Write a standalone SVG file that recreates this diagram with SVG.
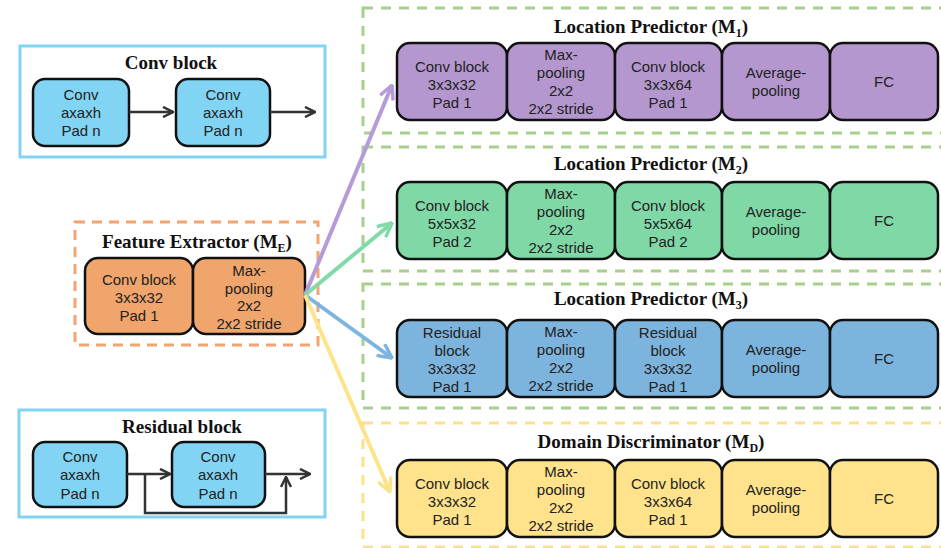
<svg xmlns="http://www.w3.org/2000/svg" width="941" height="548" viewBox="0 0 941 548">
<style>
.frame{fill:none;stroke:#83d3f5;stroke-width:3}
.cb{fill:#82d4f4;stroke:#111;stroke-width:2.5}
.pu{fill:#b497cf;stroke:#111;stroke-width:2.5}
.gr{fill:#80d8a7;stroke:#111;stroke-width:2.5}
.bl{fill:#7db4dd;stroke:#111;stroke-width:2.5}
.ye{fill:#fee28c;stroke:#111;stroke-width:2.5}
.or{fill:#f0a56c;stroke:#111;stroke-width:2.5}
.gd{fill:none;stroke:#a8d08d;stroke-width:3;stroke-dasharray:10 8}
.yd{fill:none;stroke:#fee08a;stroke-width:3;stroke-dasharray:10 8}
.od{fill:none;stroke:#f4a470;stroke-width:3;stroke-dasharray:10 7}
.t{font-family:"Liberation Sans",Arial,sans-serif;font-size:15px;fill:#222;text-anchor:middle}
.h{font-family:"Liberation Serif",serif;font-weight:bold;font-size:19px;fill:#111;text-anchor:middle}
.sub{font-size:12px}
.k{fill:none;stroke:#333;stroke-width:2.5}
</style>
<defs>
<marker id="ak" viewBox="0 0 12 12" refX="11" refY="6" markerWidth="12" markerHeight="12" markerUnits="userSpaceOnUse" orient="auto"><path d="M1,1 L11,6 L1,11" fill="none" stroke="#333" stroke-width="2.5"/></marker>
<marker id="ap" viewBox="0 0 16 16" refX="15" refY="8" markerWidth="16" markerHeight="16" markerUnits="userSpaceOnUse" orient="auto"><path d="M1,1 L15,8 L1,15" fill="none" stroke="#b59bd8" stroke-width="3.5"/></marker>
<marker id="ag" viewBox="0 0 16 16" refX="15" refY="8" markerWidth="16" markerHeight="16" markerUnits="userSpaceOnUse" orient="auto"><path d="M1,1 L15,8 L1,15" fill="none" stroke="#80dba8" stroke-width="3.5"/></marker>
<marker id="ab" viewBox="0 0 16 16" refX="15" refY="8" markerWidth="16" markerHeight="16" markerUnits="userSpaceOnUse" orient="auto"><path d="M1,1 L15,8 L1,15" fill="none" stroke="#7cb5e0" stroke-width="3.5"/></marker>
<marker id="ay" viewBox="0 0 16 16" refX="15" refY="8" markerWidth="16" markerHeight="16" markerUnits="userSpaceOnUse" orient="auto"><path d="M1,1 L15,8 L1,15" fill="none" stroke="#fde38a" stroke-width="3.5"/></marker>
</defs>

<g id="panel-m1">
<rect class="gd" x="363" y="8" width="600" height="125"/>
<text class="h" x="651" y="33">Location Predictor (M<tspan class="sub" dy="4">1</tspan><tspan dy="-4">)</tspan></text>
<rect class="pu" x="397" y="43" width="110" height="77" rx="13"/>
<rect class="pu" x="507" y="43" width="108" height="77" rx="13"/>
<rect class="pu" x="615" y="43" width="107" height="77" rx="13"/>
<rect class="pu" x="722" y="43" width="108" height="77" rx="13"/>
<rect class="pu" x="830" y="43" width="108" height="77" rx="13"/>
<text class="t" x="452" y="72">Conv block</text><text class="t" x="452" y="90">3x3x32</text><text class="t" x="452" y="108">Pad 1</text>
<text class="t" x="561" y="60">Max-</text><text class="t" x="561" y="78">pooling</text><text class="t" x="561" y="96">2x2</text><text class="t" x="561" y="114">2x2 stride</text>
<text class="t" x="668" y="72">Conv block</text><text class="t" x="668" y="90">3x3x64</text><text class="t" x="668" y="108">Pad 1</text>
<text class="t" x="776" y="78">Average-</text><text class="t" x="776" y="96">pooling</text>
<text class="t" x="884" y="87">FC</text>
</g>

<g id="panel-m2">
<rect class="gd" x="363" y="147" width="600" height="124"/>
<text class="h" x="651" y="170">Location Predictor (M<tspan class="sub" dy="4">2</tspan><tspan dy="-4">)</tspan></text>
<rect class="gr" x="397" y="182" width="110" height="77" rx="13"/>
<rect class="gr" x="507" y="182" width="108" height="77" rx="13"/>
<rect class="gr" x="615" y="182" width="107" height="77" rx="13"/>
<rect class="gr" x="722" y="182" width="108" height="77" rx="13"/>
<rect class="gr" x="830" y="182" width="108" height="77" rx="13"/>
<text class="t" x="452" y="211">Conv block</text><text class="t" x="452" y="229">5x5x32</text><text class="t" x="452" y="247">Pad 2</text>
<text class="t" x="561" y="199">Max-</text><text class="t" x="561" y="217">pooling</text><text class="t" x="561" y="235">2x2</text><text class="t" x="561" y="253">2x2 stride</text>
<text class="t" x="668" y="211">Conv block</text><text class="t" x="668" y="229">5x5x64</text><text class="t" x="668" y="247">Pad 2</text>
<text class="t" x="776" y="217">Average-</text><text class="t" x="776" y="235">pooling</text>
<text class="t" x="884" y="226">FC</text>
</g>

<g id="panel-m3">
<rect class="gd" x="363" y="284" width="600" height="124"/>
<text class="h" x="651" y="305">Location Predictor (M<tspan class="sub" dy="4">3</tspan><tspan dy="-4">)</tspan></text>
<rect class="bl" x="397" y="320" width="110" height="77" rx="13"/>
<rect class="bl" x="507" y="320" width="108" height="77" rx="13"/>
<rect class="bl" x="615" y="320" width="107" height="77" rx="13"/>
<rect class="bl" x="722" y="320" width="108" height="77" rx="13"/>
<rect class="bl" x="830" y="320" width="108" height="77" rx="13"/>
<text class="t" x="452" y="338">Residual</text><text class="t" x="452" y="356">block</text><text class="t" x="452" y="374">3x3x32</text><text class="t" x="452" y="392">Pad 1</text>
<text class="t" x="561" y="337">Max-</text><text class="t" x="561" y="355">pooling</text><text class="t" x="561" y="373">2x2</text><text class="t" x="561" y="391">2x2 stride</text>
<text class="t" x="668" y="338">Residual</text><text class="t" x="668" y="356">block</text><text class="t" x="668" y="374">3x3x32</text><text class="t" x="668" y="392">Pad 1</text>
<text class="t" x="776" y="355">Average-</text><text class="t" x="776" y="373">pooling</text>
<text class="t" x="884" y="364">FC</text>
</g>

<g id="panel-md">
<rect class="yd" x="363" y="423" width="600" height="124"/>
<text class="h" x="651" y="448">Domain Discriminator (M<tspan class="sub" dy="4">D</tspan><tspan dy="-4">)</tspan></text>
<rect class="ye" x="397" y="460" width="110" height="77" rx="13"/>
<rect class="ye" x="507" y="460" width="108" height="77" rx="13"/>
<rect class="ye" x="615" y="460" width="107" height="77" rx="13"/>
<rect class="ye" x="722" y="460" width="108" height="77" rx="13"/>
<rect class="ye" x="830" y="460" width="108" height="77" rx="13"/>
<text class="t" x="452" y="489">Conv block</text><text class="t" x="452" y="507">3x3x32</text><text class="t" x="452" y="525">Pad 1</text>
<text class="t" x="561" y="477">Max-</text><text class="t" x="561" y="495">pooling</text><text class="t" x="561" y="513">2x2</text><text class="t" x="561" y="531">2x2 stride</text>
<text class="t" x="668" y="489">Conv block</text><text class="t" x="668" y="507">3x3x64</text><text class="t" x="668" y="525">Pad 1</text>
<text class="t" x="776" y="495">Average-</text><text class="t" x="776" y="513">pooling</text>
<text class="t" x="884" y="504">FC</text>
</g>

<g id="feature-extractor">
<rect class="od" x="75" y="222" width="243" height="123"/>
<text class="h" x="197" y="248">Feature Extractor (M<tspan class="sub" dy="4">E</tspan><tspan dy="-4">)</tspan></text>
<rect class="or" x="85" y="258" width="108" height="76" rx="13"/>
<rect class="or" x="193" y="258" width="112" height="76" rx="13"/>
<text class="t" x="139" y="285">Conv block</text><text class="t" x="139" y="303">3x3x32</text><text class="t" x="139" y="321">Pad 1</text>
<text class="t" x="249" y="276">Max-</text><text class="t" x="249" y="293.5">pooling</text><text class="t" x="249" y="311">2x2</text><text class="t" x="249" y="328.5">2x2 stride</text>
</g>

<g id="conv-block">
<rect class="frame" x="20" y="46" width="305" height="111"/>
<text class="h" x="171" y="69">Conv block</text>
<rect class="cb" x="33" y="79" width="96" height="67" rx="12"/>
<rect class="cb" x="176" y="79" width="94" height="67" rx="12"/>
<text class="t" x="81" y="100">Conv</text><text class="t" x="81" y="118">axaxh</text><text class="t" x="81" y="136">Pad n</text>
<text class="t" x="223" y="100">Conv</text><text class="t" x="223" y="118">axaxh</text><text class="t" x="223" y="136">Pad n</text>
</g>

<g id="residual-block">
<rect class="frame" x="19" y="410" width="306" height="107"/>
<text class="h" x="182" y="433">Residual block</text>
<rect class="cb" x="33" y="442" width="94" height="65" rx="12"/>
<rect class="cb" x="172" y="442" width="93" height="65" rx="12"/>
<text class="t" x="80" y="462">Conv</text><text class="t" x="80" y="480">axaxh</text><text class="t" x="80" y="499">Pad n</text>
<text class="t" x="218" y="462">Conv</text><text class="t" x="218" y="480">axaxh</text><text class="t" x="218" y="499">Pad n</text>
</g>

<g id="connectors">
<line class="k" x1="129" y1="112" x2="173" y2="112" marker-end="url(#ak)"/>
<line class="k" x1="270" y1="112" x2="315" y2="112" marker-end="url(#ak)"/>
<line class="k" x1="127" y1="474" x2="170" y2="474" marker-end="url(#ak)"/>
<polyline class="k" points="145,474 145,513 286,513 286,477" marker-end="url(#ak)"/>
<line class="k" x1="265" y1="474" x2="310" y2="474" marker-end="url(#ak)"/>
<line x1="305" y1="295" x2="392" y2="85" stroke="#b59bd8" stroke-width="4" marker-end="url(#ap)"/>
<line x1="305" y1="295" x2="392" y2="223" stroke="#80dba8" stroke-width="4" marker-end="url(#ag)"/>
<line x1="305" y1="295" x2="392" y2="358" stroke="#7cb5e0" stroke-width="4" marker-end="url(#ab)"/>
<line x1="305" y1="295" x2="390" y2="492" stroke="#fde38a" stroke-width="4" marker-end="url(#ay)"/>
</g>
</svg>
